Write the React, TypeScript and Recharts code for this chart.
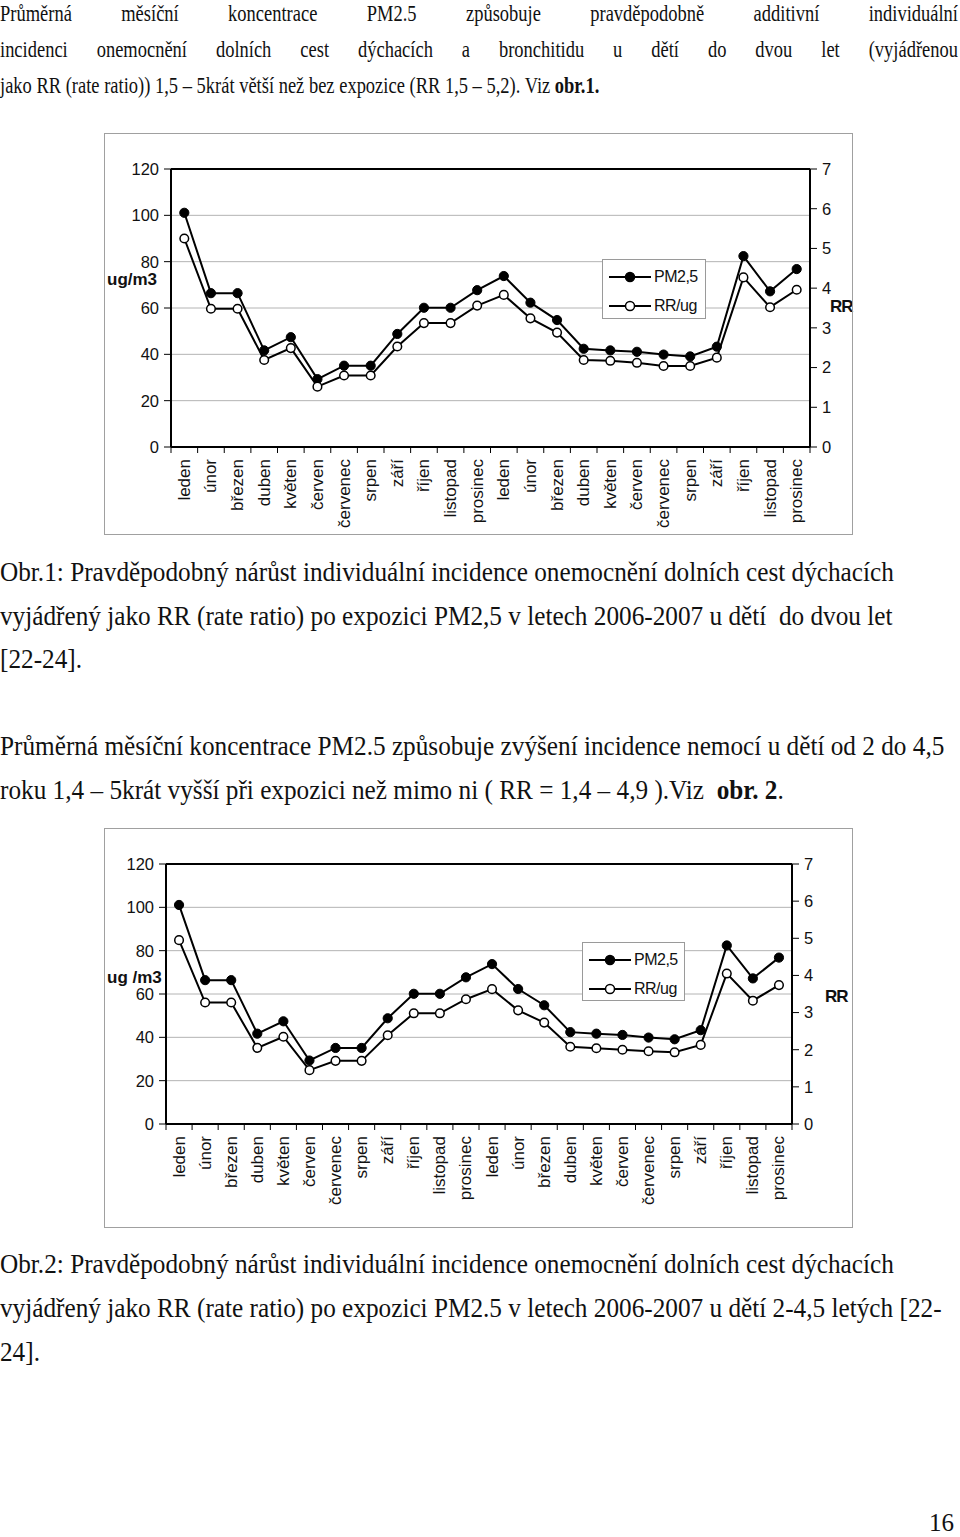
import { ComposedChart, Line, XAxis, YAxis, CartesianGrid, Legend, ReferenceLine } from 'recharts';

// months of 2006 and 2007
const monthNames = ['leden', 'únor', 'březen', 'duben', 'květen', 'červen', 'červenec', 'srpen', 'září', 'říjen', 'listopad', 'prosinec'];
const months = [...monthNames, ...monthNames];

// monthly mean PM2.5 (ug/m3), same in both figures
const pm25 = [101.1, 66.4, 66.4, 41.7, 47.4, 29.3, 35.1, 35.1, 48.8, 60.1, 60.1, 67.7, 73.8, 62.3, 54.8, 42.4, 41.7, 41.1, 39.9, 39.1, 43.3, 82.4, 67.2, 76.8];
// RR per ug, children under 2 (obr. 1)
const rrUnder2 = [5.25, 3.48, 3.48, 2.19, 2.49, 1.52, 1.8, 1.8, 2.53, 3.12, 3.12, 3.56, 3.83, 3.24, 2.88, 2.19, 2.17, 2.12, 2.04, 2.04, 2.25, 4.27, 3.52, 3.96];
// RR per ug, children 2-4.5 (obr. 2)
const rr2to45 = [4.95, 3.27, 3.27, 2.05, 2.35, 1.45, 1.7, 1.7, 2.39, 2.98, 2.98, 3.36, 3.63, 3.06, 2.73, 2.08, 2.04, 2.0, 1.96, 1.93, 2.13, 4.05, 3.32, 3.74];

const leftTicks = [0, 20, 40, 60, 80, 100, 120];
const rightTicks = [0, 1, 2, 3, 4, 5, 6, 7];

const SANS = '"Liberation Sans", Arial, sans-serif';
const SERIF = '"Liberation Serif", "Times New Roman", serif';

interface ChartBoxProps {
  left: number;
  top: number;
  width: number;
  height: number;
  leftW: number;
  rightW: number;
  axisH: number;
  labelGap: number;
  rr: number[];
  unitLabel: string;
  unitPos: [number, number];
  rrPos: [number, number];
  legendPos: [number, number, number, number];
}

const LegendBox = ({ payload, w, h }: any) => (
  <div style={{ width: w, height: h, boxSizing: 'border-box', border: '1px solid #9a9a9a', background: '#fff', position: 'relative' }}>
    {(payload || []).map((r: any, i: number) => (
      <div key={r.value} style={{ position: 'absolute', left: 0, top: 6 + i * 29, height: 22, display: 'flex', alignItems: 'center' }}>
        <svg width={50} height={22}>
          <line x1={6} y1={11} x2={48} y2={11} stroke="#000" strokeWidth={2} />
          <circle cx={27} cy={11} r={4.5} fill={r.value === 'PM2,5' ? '#000' : '#fff'} stroke="#000" strokeWidth={1.5} />
        </svg>
        <span style={{ fontFamily: SANS, fontSize: 16, color: '#111', marginLeft: 1, letterSpacing: -0.5 }}>{r.value}</span>
      </div>
    ))}
  </div>
);

const ChartBox = ({ left, top, width, height, leftW, rightW, axisH, labelGap, rr, unitLabel, unitPos, rrPos, legendPos }: ChartBoxProps) => {
  const data = months.map((m, i) => ({ m, pm: pm25[i], rr: rr[i] }));
  // width of one month slot; points sit in the middle of their slot
  const bw = (width - leftW - rightW) / months.length;

  const MonthTick = (props: any) => {
    const { x, y, payload, index } = props;
    const ty = y + labelGap;
    return (
      <g>
        <line x1={x + bw / 2} y1={y} x2={x + bw / 2} y2={y + 6} stroke="#000" strokeWidth={1} />
        {index === 0 && <line x1={x - bw / 2} y1={y} x2={x - bw / 2} y2={y + 6} stroke="#000" strokeWidth={1} />}
        <text x={x} y={ty} transform={`rotate(-90, ${x}, ${ty})`} textAnchor="end" dominantBaseline="central" fontSize={17} fontFamily={SANS} fill="#111">
          {payload.value}
        </text>
      </g>
    );
  };

  return (
    <div style={{ position: 'absolute', left, top, width, height }}>
      <ComposedChart width={width} height={height} data={data} margin={{ top: 36, right: 0, bottom: 0, left: 0 }}>
        <CartesianGrid yAxisId="left" vertical={false} stroke="#b4b4b4" strokeWidth={1} />
        <XAxis dataKey="m" height={axisH} interval={0} padding={{ left: bw / 2, right: bw / 2 }} tickLine={false} tickSize={0} tickMargin={0} tick={<MonthTick />} axisLine={{ stroke: '#000', strokeWidth: 2 }} />
        <YAxis yAxisId="left" domain={[0, 120]} ticks={leftTicks} width={leftW} tickSize={7} tickMargin={5} interval={0} axisLine={{ stroke: '#000', strokeWidth: 2 }} tickLine={{ stroke: '#000' }} tick={{ fontSize: 16.5, fill: '#111', fontFamily: SANS }} />
        <YAxis yAxisId="right" orientation="right" domain={[0, 7]} ticks={rightTicks} width={rightW} tickSize={7} tickMargin={5} interval={0} axisLine={{ stroke: '#000', strokeWidth: 2 }} tickLine={{ stroke: '#000' }} tick={{ fontSize: 16.5, fill: '#111', fontFamily: SANS }} />
        <ReferenceLine yAxisId="left" y={120} stroke="#000" strokeWidth={2} />
        <Legend
          layout="horizontal"
          verticalAlign="middle"
          align="center"
          content={(p: any) => <LegendBox payload={p.payload} w={legendPos[2]} h={legendPos[3]} />}
          wrapperStyle={{ position: 'absolute', left: legendPos[0], top: legendPos[1], width: legendPos[2], height: legendPos[3] }}
        />
        <Line yAxisId="left" dataKey="pm" name="PM2,5" stroke="#000" strokeWidth={2} dot={{ r: 4.6, fill: '#000', stroke: '#000', strokeWidth: 1 }} isAnimationActive={false} />
        <Line yAxisId="right" dataKey="rr" name="RR/ug" stroke="#000" strokeWidth={2} dot={{ r: 4.3, fill: '#fff', stroke: '#000', strokeWidth: 1.5 }} isAnimationActive={false} />
      </ComposedChart>
      <div style={{ position: 'absolute', left: unitPos[0], top: unitPos[1] - 10, fontFamily: SANS, fontWeight: 'bold', fontSize: 17, lineHeight: '20px', color: '#111' }}>{unitLabel}</div>
      <div style={{ position: 'absolute', left: rrPos[0], top: rrPos[1] - 10, fontFamily: SANS, fontWeight: 'bold', fontSize: 17, lineHeight: '20px', color: '#111', letterSpacing: -1 }}>RR</div>
      <div style={{ position: 'absolute', left: 0, top: 0, width, height, boxSizing: 'border-box', border: '1px solid #a0a0a0', pointerEvents: 'none' }} />
    </div>
  );
};

interface LineProps {
  top: number;
  size: number;
  k: number;
  width?: number;
  children: any;
}

const TextLine = ({ top, size, k, width, children }: LineProps) => (
  <div
    style={{
      position: 'absolute',
      left: 0,
      top,
      fontFamily: SERIF,
      fontSize: size,
      lineHeight: `${size}px`,
      color: '#111',
      whiteSpace: width ? 'normal' : 'nowrap',
      width: width ? width / k : undefined,
      textAlign: width ? 'justify' : 'left',
      textAlignLast: width ? 'justify' : undefined,
      transform: `scaleX(${k})`,
      transformOrigin: '0 0',
    }}
  >
    {children}
  </div>
);

const TOP_FS = 24;
const TOP_K = 0.77;
const BODY_FS = 27;
const BODY_K = 0.935;

const App = () => (
  <div style={{ position: 'absolute', left: 0, top: 0, width: 960, height: 1537, background: '#fff', overflow: 'hidden' }}>
    <TextLine top={1} size={TOP_FS} k={TOP_K} width={958}>Průměrná měsíční koncentrace PM2.5 způsobuje pravděpodobně additivní individuální</TextLine>
    <TextLine top={37} size={TOP_FS} k={TOP_K} width={958}>incidenci onemocnění dolních cest dýchacích a bronchitidu u dětí do dvou let (vyjádřenou</TextLine>
    <TextLine top={73} size={TOP_FS} k={TOP_K}>
      jako RR (rate ratio)) 1,5 – 5krát větší než bez expozice (RR 1,5 – 5,2). Viz <b>obr.1.</b>
    </TextLine>

    <ChartBox
      left={104}
      top={133}
      width={749}
      height={402}
      leftW={67}
      rightW={43}
      axisH={88}
      labelGap={12}
      rr={rrUnder2}
      unitLabel="ug/m3"
      unitPos={[3, 147]}
      rrPos={[726, 174]}
      legendPos={[498, 126, 104, 60]}
    />

    <TextLine top={559} size={BODY_FS} k={BODY_K}>Obr.1: Pravděpodobný nárůst individuální incidence onemocnění dolních cest dýchacích</TextLine>
    <TextLine top={603} size={BODY_FS} k={BODY_K}>vyjádřený jako RR (rate ratio) po expozici PM2,5 v letech 2006-2007 u dětí&nbsp; do dvou let</TextLine>
    <TextLine top={646} size={BODY_FS} k={BODY_K}>[22-24].</TextLine>

    <TextLine top={733} size={BODY_FS} k={BODY_K}>Průměrná měsíční koncentrace PM2.5 způsobuje zvýšení incidence nemocí u dětí od 2 do 4,5</TextLine>
    <TextLine top={777} size={BODY_FS} k={BODY_K}>
      roku 1,4 – 5krát vyšší při expozici než mimo ni ( RR = 1,4 – 4,9 ).Viz&nbsp; <b>obr. 2</b>.
    </TextLine>

    <ChartBox
      left={104}
      top={828}
      width={749}
      height={400}
      leftW={62}
      rightW={61}
      axisH={104}
      labelGap={12}
      rr={rr2to45}
      unitLabel="ug /m3"
      unitPos={[3, 150]}
      rrPos={[721, 169]}
      legendPos={[478, 114, 103, 59]}
    />

    <TextLine top={1251} size={BODY_FS} k={BODY_K}>Obr.2: Pravděpodobný nárůst individuální incidence onemocnění dolních cest dýchacích</TextLine>
    <TextLine top={1295} size={BODY_FS} k={BODY_K}>vyjádřený jako RR (rate ratio) po expozici PM2.5 v letech 2006-2007 u dětí 2-4,5 letých [22-</TextLine>
    <TextLine top={1339} size={BODY_FS} k={BODY_K}>24].</TextLine>

    <div style={{ position: 'absolute', left: 929, top: 1510, fontFamily: SERIF, fontSize: 25, lineHeight: '25px', color: '#111' }}>16</div>
  </div>
);

export default App;
